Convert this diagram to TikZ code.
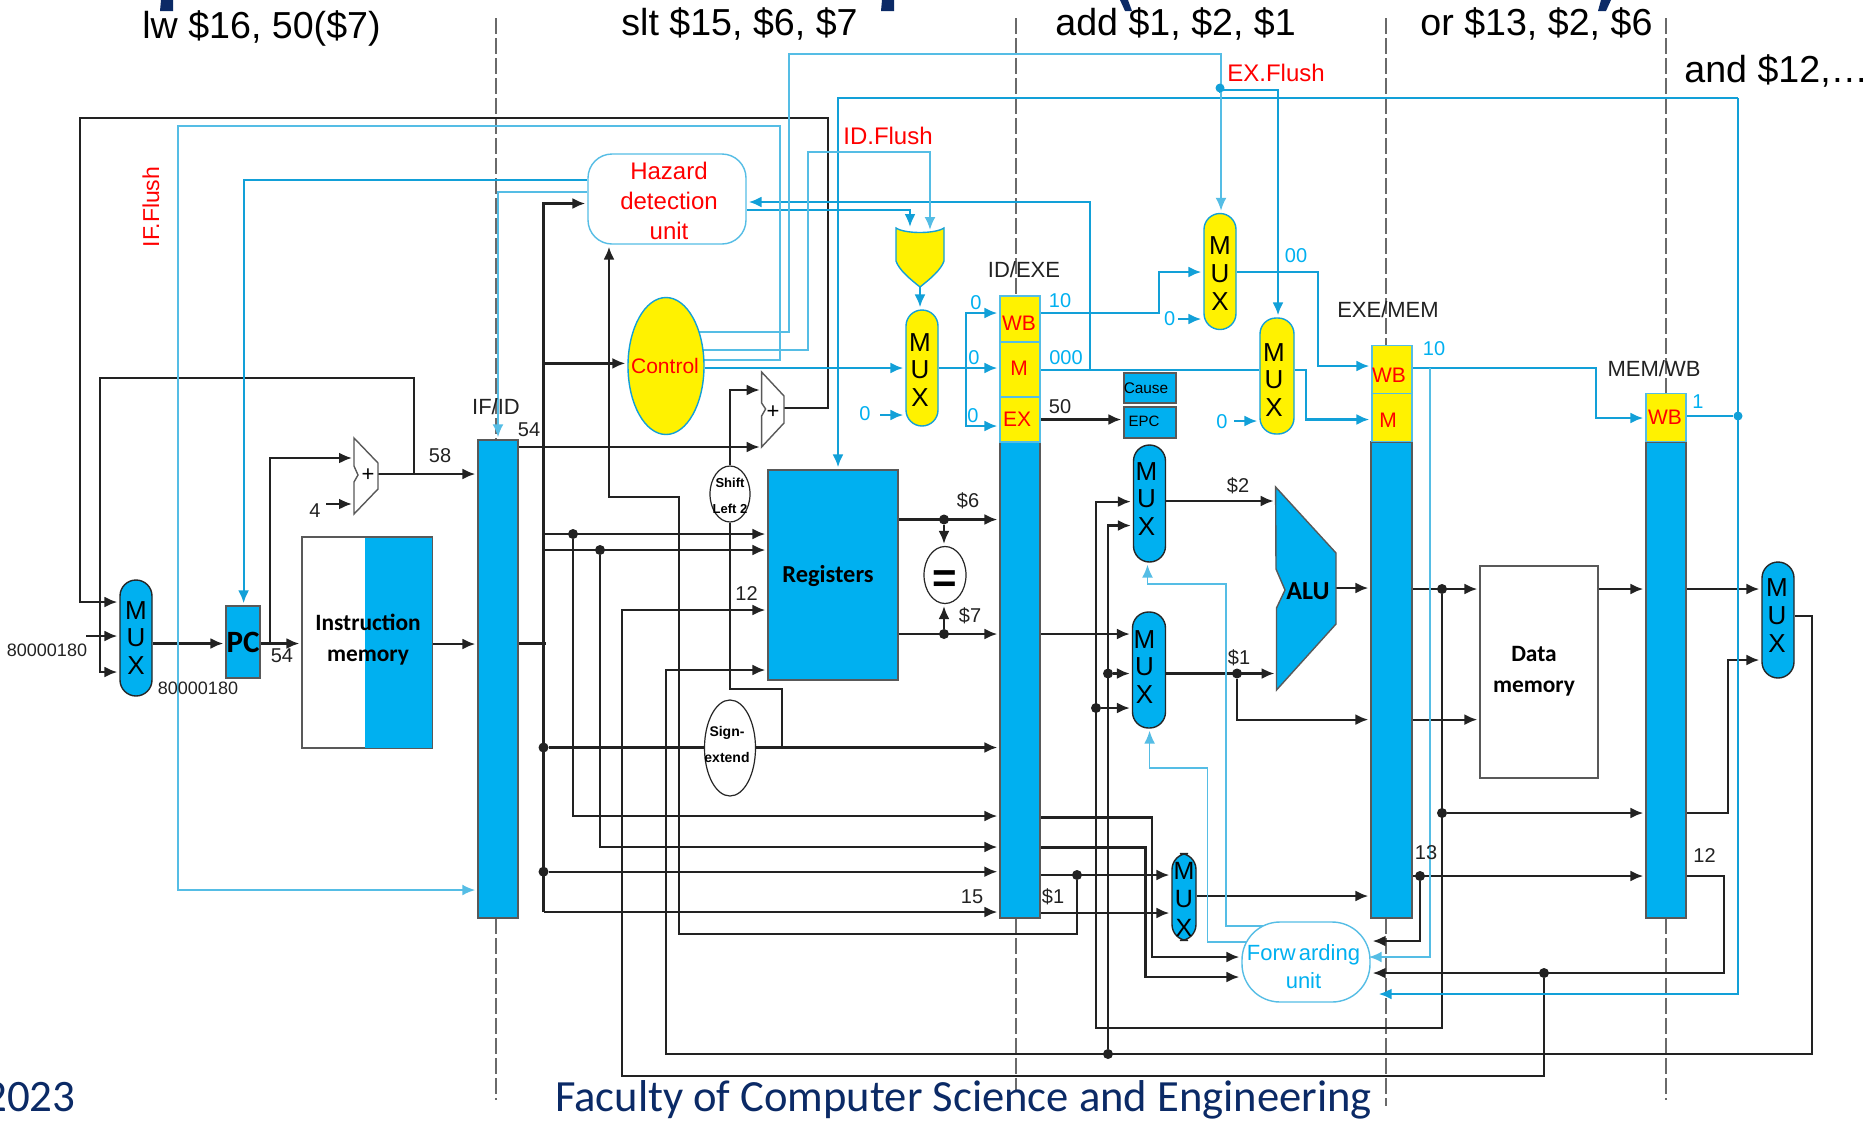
\documentclass[tikz,border=0pt]{standalone}
\usepackage{fontspec}
\setmainfont{Liberation Sans}
\newfontfamily\cf{Carlito}
\usetikzlibrary{arrows.meta,shapes.geometric,backgrounds}
\definecolor{regblue}{HTML}{00B0F0}
\definecolor{cd}{HTML}{12A0D8}
\definecolor{cl}{HTML}{55BDE5}
\definecolor{wirek}{HTML}{222222}
\definecolor{frame}{HTML}{595959}
\definecolor{navy}{HTML}{0B2A66}
\newcommand{\pxfs}[2]{\fontsize{#1}{#2}\selectfont}
\tikzset{
  sz/.style n args={2}{minimum width=#1*.5pt,minimum height=#2*.5pt},
  arr/.style={-{Latex[length=6.5pt,width=5.5pt]},shorten >=1pt},
  bw/.style={draw=wirek,line width=1.1pt},
  dw/.style={draw=cd,line width=1.1pt},
  lw/.style={draw=cl,line width=1.05pt},
  tw/.style={draw=cl,line width=.8pt},
  reg/.style={rectangle,draw=frame,fill=regblue,line width=.7pt,inner sep=0pt},
  ybox/.style={rectangle,draw=cl,fill=yellow,line width=.7pt,inner sep=0pt},
  ytext/.style={inner sep=0pt,text=red,font=\pxfs{10.5}{12}},
  mux/.style={rectangle,rounded corners=8pt,line width=.7pt,inner sep=0pt},
  muxt/.style={inner sep=0pt,align=center,font=\pxfs{13}{13.9}},
  bmux/.style={mux,draw=black!85,fill=regblue},
  ymux/.style={mux,draw=cd,fill=yellow},
  dotk/.style={circle,fill=wirek,inner sep=0pt,minimum size=5pt},
  dotb/.style={circle,fill=cd,inner sep=0pt,minimum size=4.5pt},
  lab/.style={inner sep=0pt,text=wirek,font=\pxfs{10}{12}},
  clab/.style={inner sep=0pt,text=regblue,font=\pxfs{10}{12}},
  rlab/.style={inner sep=0pt,text=red,font=\pxfs{12}{14}},
  title/.style={inner sep=0pt,anchor=west,text=black,font=\pxfs{18.8}{20}},
  cbold/.style={inner sep=0pt,font=\cf\bfseries\pxfs{11.7}{15.5},align=center},
  oval/.style={ellipse,draw=black!85,fill=white,line width=.6pt,inner sep=0pt},
  adder/.style={draw=frame,fill=white,line width=.7pt,line join=miter}
}
\begin{document}
\begin{tikzpicture}[x=.5pt,y=-.5pt]
\path[use as bounding box] (0,0) rectangle (1875,1120);

% ---- stage titles and slide remnants
\node[title] (tlw) at (142,28) {lw \$16, 50(\$7)};
\node[title] (tslt) at (621,24) {slt \$15, \$6, \$7};
\node[title] (tadd) at (1055,24) {add \$1, \$2, \$1};
\node[title] (tor) at (1420,24) {or \$13, \$2, \$6};
\node[title] (tand) at (1684,71) {and \$12,…};
\fill[navy] (161,0) -- (173,0) -- (173,11) -- (160,11) -- cycle;
\fill[navy] (882,0) -- (894,0) -- (894,11) -- (881,11) -- cycle;
\fill[navy] (1120,0) -- (1128,0) -- (1132,11) -- (1125,11) -- cycle;
\fill[navy] (1601,0) -- (1611,0) -- (1606,11) -- (1598,11) -- cycle;
\node[inner sep=0pt,anchor=base,text=navy,font=\cf\pxfs{22.3}{24}] (foot) at (963.5,1111) {Faculty of Computer Science and Engineering};
\node[inner sep=0pt,anchor=base east,text=navy,font=\cf\pxfs{22.5}{24}] (year) at (76,1111) {2023};

% ---- pipeline registers
\node[reg,sz={40}{478}] (ifid) at (498,679) {};
\node[reg,sz={40}{476}] (idex) at (1020,680) {};
\node[reg,sz={41}{476}] (exmem) at (1391.5,680) {};
\node[reg,sz={40}{476}] (memwb) at (1666,680) {};
\node[ybox,sz={40}{46}] (idwb) at (1020,319) {};
\node[ybox,sz={40}{55}] (idm) at (1020,369.5) {};
\node[ybox,sz={40}{45}] (idx) at (1020,419.5) {};
\node[ybox,sz={40}{48}] (exwb) at (1392,369.5) {};
\node[ybox,sz={40}{48}] (exm) at (1392,417.5) {};
\node[ybox,sz={40}{48}] (mwb) at (1666,417.5) {};
\node[ytext] (idwbt) at (1019,323) {WB};
\node[ytext] (idmt) at (1019,368) {M};
\node[ytext] (idxt) at (1017,419) {EX};
\node[ytext] (exwbt) at (1389,375) {WB};
\node[ytext] (exmt) at (1388,420) {M};
\node[ytext] (mwbt) at (1665,417) {WB};

% ---- functional blocks
\node[bmux,sz={32}{116}] (m1) at (136,638) {};
\node[muxt] (m1t) at (136,638) {M\\U\\X};
\node[reg,sz={34}{72},font=\cf\bfseries\pxfs{15.5}{16}] (pc) at (243,642) {PC};
\node[rectangle,draw=frame,fill=white,line width=.7pt,sz={130}{210.5},inner sep=0pt] (imem) at (367,642.8) {};
\fill[regblue] (365,538) rectangle (431.6,747.6);
\draw[frame,line width=.7pt] (imem.north west) rectangle (imem.south east);
\node[cbold] (imemt) at (368,640) {Instruction\\memory};
\node[rectangle,rounded corners=12pt,draw=cl,fill=white,line width=.7pt,sz={158}{90},inner sep=0pt] (haz) at (667,199) {};
\node[inner sep=0pt,align=center,text=red,font=\pxfs{12}{15}] (hazt) at (669,201) {Hazard\\detection\\unit};
\node[ellipse,draw=cd,fill=yellow,line width=.7pt,sz={76}{137},inner sep=0pt] (ctrl) at (666,366) {};
\node[inner sep=0pt,text=red,font=\pxfs{10.5}{12}] (ctrlt) at (665,365.5) {Control};
\node[oval,sz={40}{56}] (sl) at (730,494) {};
\node[inner sep=0pt,align=center,font=\bfseries\pxfs{6.5}{13}] (slt) at (730,496) {Shift\\Left 2};
\node[oval,sz={51}{96}] (se) at (730,748) {};
\node[inner sep=0pt,align=center,font=\bfseries\pxfs{7}{13}] (set) at (727,744) {Sign-\\extend};
\node[rectangle,draw=frame,fill=regblue,line width=.7pt,sz={130}{210},inner sep=0pt] (regs) at (833,575) {};
\node[inner sep=0pt,font=\cf\bfseries\pxfs{12.2}{13}] (regst) at (828,576) {Registers};
\node[oval,sz={42}{57}] (eq) at (945,575) {};
\node[inner sep=0pt,font=\bfseries\pxfs{21}{22}] (eqt) at (945,582) {=};
\node[ymux,sz={32}{116}] (m2) at (922,368) {};
\node[muxt] (m2t) at (920,370) {M\\U\\X};
\node[ymux,sz={32}{116}] (m3) at (1220,271.5) {};
\node[muxt] (m3t) at (1220,273.5) {M\\U\\X};
\node[ymux,sz={34}{116}] (m4) at (1277,376) {};
\node[muxt] (m4t) at (1274,380) {M\\U\\X};
\node[reg,sz={52}{30}] (cause) at (1150,388) {};
\node[inner sep=0pt,font=\pxfs{7.7}{9}] (causet) at (1146,388) {Cause};
\node[reg,sz={52}{31}] (epc) at (1150,422.5) {};
\node[inner sep=0pt,font=\pxfs{7.5}{9}] (epct) at (1144,421) {EPC};
\node[bmux,sz={32}{117}] (m6) at (1149.5,503.5) {};
\node[muxt] (m6t) at (1146.5,499) {M\\U\\X};
\node[bmux,sz={33}{116}] (m7) at (1149,670) {};
\node[muxt] (m7t) at (1144.5,667) {M\\U\\X};
\node[bmux,sz={24}{87}] (m8) at (1184,897) {};
\node[muxt,font=\pxfs{12.5}{14.2}] (m8t) at (1184,899) {M\\U\\X};
\node[bmux,sz={32}{116}] (m5) at (1778,620) {};
\node[muxt] (m5t) at (1777,615.5) {M\\U\\X};
\node[rectangle,draw=frame,fill=white,line width=.7pt,sz={118}{212},inner sep=0pt] (dmem) at (1539,672) {};
\node[cbold] (dmemt) at (1534,671) {Data\\memory};
\node[rectangle,rounded corners=19pt,draw=cl,fill=white,line width=.7pt,sz={128}{80},inner sep=0pt] (fwd) at (1306,962) {};
\node[inner sep=0pt,align=center,text=regblue,font=\pxfs{11}{13.7}] (fwdt) at (1303.5,966.5) {Forw\kern1.5pt arding\\unit};

% ---- drawn shapes
\draw[adder] (354,438) -- (378,463) -- (378,489) -- (354,514) -- (354,482) -- (358,475) -- (354,466) -- cycle;
\node[inner sep=0pt,font=\pxfs{11}{12}] (a1t) at (368,475) {+};
\draw[adder] (761.6,372) -- (784,396) -- (784,423) -- (761.6,447) -- (761.6,416) -- (765.6,409) -- (761.6,403) -- cycle;
\node[inner sep=0pt,font=\pxfs{11}{12}] (a2t) at (773,412) {+};
\draw[draw=frame,fill=regblue,line width=.7pt,line join=miter] (1275.6,487) -- (1336,553) -- (1336,624) -- (1276.5,690) -- (1276.5,608) -- (1285,590) -- (1276,569) -- cycle;
\node[inner sep=0pt,font=\cf\bfseries\pxfs{13}{14}] (alu) at (1308,591) {ALU};
\draw[draw=cd,fill=yellow,line width=.7pt] (896,228) .. controls (905,234) and (935,234) .. (944,228) -- (944,261) .. controls (941,270) and (930,279) .. (920,287) .. controls (910,279) and (899,270) .. (896,261) -- cycle;
\coordinate (a1out) at (378,474);
\coordinate (a1ia) at (354,458);
\coordinate (a1ib) at (354,504);
\coordinate (a2out) at (784,408);
\coordinate (a2ia) at (761.6,390);
\coordinate (a2ib) at (761.6,447);
\coordinate (aluia) at (1275.6,501);
\coordinate (aluib) at (1276.5,673.5);
\coordinate (aluo) at (1336,588);
\coordinate (orb) at (920,287);
\coordinate (ora) at (910,229);
\coordinate (orc) at (930,232);
\coordinate (pcin) at (86,636);
\coordinate (four) at (326,504);
\coordinate (tr) at (543.5,912);

% ---- junction dots
\node[dotk] (d1) at (573,534) {};
\node[dotk] (d2) at (600,550) {};
\node[dotk] (d3) at (543.5,747.5) {};
\node[dotk] (d4) at (543.5,871.7) {};
\node[dotk] (d5) at (1077,875) {};
\node[dotk] (d6) at (1544,973) {};
\node[dotk] (d7) at (1108,1054) {};
\node[dotk] (d8) at (1442,813) {};
\node[dotk] (d9) at (1442,589) {};
\node[dotk] (d10) at (1096,708) {};
\node[dotk] (d11) at (1237,673.5) {};
\node[dotk] (d12) at (1420,876) {};
\node[dotk] (d13) at (1108,673.5) {};
\node[dotk] (eqa) at (944,519.5) {};
\node[dotk] (eqb) at (944,634) {};
\node[dotb] (d14) at (1220,88) {};
\node[dotb] (d15) at (1738,416) {};

% ---- labels
\node[lab,font=\pxfs{11}{12}] (lif) at (496,407) {IF/ID};
\node[lab,font=\pxfs{11}{12}] (lid) at (1024,270) {ID/EXE};
\node[lab,font=\pxfs{11}{12}] (lex) at (1388,310) {EXE/MEM};
\node[lab,font=\pxfs{11}{12}] (lmem) at (1654,368.4) {MEM/WB};
\node[lab] (l54a) at (529,430) {54};
\node[lab] (l58) at (440,456) {58};
\node[lab] (l54b) at (282,656) {54};
\node[lab] (l4) at (315,511) {4};
\node[lab,font=\pxfs{9}{10}] (la) at (47,650) {80000180};
\node[lab,font=\pxfs{9}{10}] (lb) at (198,688) {80000180};
\node[lab] (l12a) at (746.5,594) {12};
\node[lab] (l50) at (1060,407) {50};
\node[lab] (ls6) at (968,501) {\$6};
\node[lab] (ls7) at (970,616) {\$7};
\node[lab] (ls2) at (1238,486) {\$2};
\node[lab] (ls1) at (1239,658) {\$1};
\node[lab] (ls1b) at (1053,897) {\$1};
\node[lab] (l15) at (972,897) {15};
\node[lab] (l13) at (1426,853) {13};
\node[lab] (l12b) at (1704.6,856) {12};
\node[clab] (c0a) at (865,414) {0};
\node[clab] (c0b) at (976,303) {0};
\node[clab] (c0c) at (974,358) {0};
\node[clab] (c0d) at (973,416) {0};
\node[clab] (c0e) at (1169.6,319) {0};
\node[clab] (c0f) at (1222,422) {0};
\node[clab] (c10a) at (1060,301) {10};
\node[clab] (c000) at (1066,358) {000};
\node[clab] (c00) at (1296,256) {00};
\node[clab] (c10b) at (1434,349) {10};
\node[clab] (c1) at (1698,402) {1};
\node[rlab] (fid) at (888,136) {ID.Flush};
\node[rlab] (fex) at (1276,73) {EX.Flush};
\node[rlab,font=\pxfs{11.5}{14},rotate=90] (fif) at (151,207) {IF.Flush};

\begin{scope}[on background layer]
\fill[white] (0,0) rectangle (1875,1120);
% stage separators
\foreach \xx/\yy in {496/1100,1016/1090,1386/1106,1666/1100}
  \draw[frame!90,line width=.8pt,dash pattern=on 8pt off 2pt] (\xx,18) -- (\xx,\yy);

% black wires
\draw[bw,arr] (a1out) -- (ifid.west |- a1out);
\draw[bw,arr] (414,474) -- (414,378) -- (100,378) -- (100,672) -- (m1.west |- 0,672);
\draw[bw,arr] (a2out) -- (828,408) -- (828,118) -- (80,118) -- (80,602) -- (m1.west |- 0,602);
\draw[bw,arr] (pcin) -- (m1.west |- pcin);
\draw[bw,arr] (m1.east |- 0,643.5) -- (pc.west |- 0,643.5);
\draw[bw,arr] (pc.east |- 0,643.5) -- (imem.west |- 0,643.5);
\draw[bw,arr] (270,643.5) -- (270,458) -- (a1ia);
\draw[bw,arr] (four) -- (a1ib);
\draw[bw,arr] (imem.east |- 0,644) -- (ifid.west |- 0,644);
\draw[bw] (ifid.east |- 0,643.5) -- (546,643.5);
\draw[bw,arr] (tr) -- (idex.west |- tr);
\draw[bw,arr] (tr) -- (543.5,203.5) -- (haz.west |- 0,203.5);
\draw[bw,arr] (543.5,363.4) -- (ctrl.west |- 0,363.4);
\draw[bw,arr] (d3) -- (idex.west |- d3);
\draw[bw,arr] (d4) -- (idex.west |- d4);
\draw[bw,arr] (ifid.east |- a2ib) -- (a2ib);
\draw[bw,arr] (tr |- 0,534) -- (regs.west |- 0,534);
\draw[bw,arr] (tr |- 0,550) -- (regs.west |- 0,550);
\draw[bw,arr] (d1) -- (573,816) -- (idex.west |- 0,816);
\draw[bw,arr] (d2) -- (600,847) -- (idex.west |- 0,847);
\draw[bw,arr] (d5) -- (1077,934) -- (679,934) -- (679,497) -- (609,497) -- (609,497 |- haz.south);
\draw[bw,arr] (sl.north) -- (730,390) -- (a2ia);
\draw[bw] (sl.south) -- (730,689) -- (782,689) -- (782,747.5);
\draw[bw,arr] (regs.east |- eqa) -- (idex.west |- eqa);
\draw[bw,arr] (regs.east |- eqb) -- (idex.west |- eqb);
\draw[bw,arr] (eqa) -- (eqa |- eq.north);
\draw[bw,arr] (eqb) -- (eqb |- eq.south);
\draw[bw,arr] (d6) -- (1544,1076) -- (622,1076) -- (622,610) -- (regs.west |- 0,610);
\draw[bw,arr] (m5.east |- 0,616) -- (1812,616) -- (1812,1054) -- (666,1054) -- (666,670) -- (regs.west |- 0,670);
\draw[bw,arr] (d7) -- (1108,525.5) -- (m6.west |- 0,525.5);
\draw[bw,arr] (d13) -- (m7.west |- d13);
\draw[bw,arr] (d9) -- (1442,1028) -- (1096,1028) -- (1096,501.6) -- (m6.west |- 0,501.6);
\draw[bw,arr] (d10) -- (m7.west |- d10);
\draw[bw,arr] (exmem.east |- d9) -- (dmem.west |- d9);
\draw[bw,arr] (d8) -- (memwb.west |- d8);
\draw[bw,arr] (m6.east |- aluia) -- (aluia);
\draw[bw,arr] (m7.east |- aluib) -- (aluib);
\draw[bw,arr] (d11) -- (1237,719.6) -- (exmem.west |- 0,719.6);
\draw[bw,arr] (idex.east |- eqb) -- (m7.west |- eqb);
\draw[bw,arr] (aluo) -- (exmem.west |- aluo);
\draw[bw,arr] (exmem.east |- 0,719.6) -- (dmem.west |- 0,719.6);
\draw[bw,arr] (dmem.east |- 0,589) -- (memwb.west |- 0,589);
\draw[bw,arr] (memwb.east |- 0,589) -- (m5.west |- 0,589);
\draw[bw,arr] (memwb.east |- d8) -- (1727.6,813) -- (1727.6,660) -- (m5.west |- 0,660);
\draw[bw,arr] (exmem.east |- d12) -- (memwb.west |- d12);
\draw[bw,arr] (d12) -- (1420,941) -- (fwd.east |- 0,941);
\draw[bw,arr] (memwb.east |- d12) -- (1724,876) -- (1724,973) -- (fwd.east |- 0,973);
\draw[bw,arr] (idex.east |- 0,817.4) -- (1152,817.4) -- (1152,957) -- (fwd.west |- 0,957);
\draw[bw,arr] (idex.east |- 0,847.4) -- (1145.5,847.4) -- (1145.5,977) -- (fwd.west |- 0,977);
\draw[bw,arr] (idex.east |- d5) -- (m8.west |- d5);
\draw[bw,arr] (idex.east |- 0,913) -- (m8.west |- 0,913);
\draw[bw,arr] (m8.east |- 0,896) -- (exmem.west |- 0,896);
\draw[bw,arr] (idx.east) -- (epc.west |- idx.east);

% dark blue wires
\draw[dw,arr] (haz.west |- 0,180) -- (243.6,180) -- (243.6,180 |- pc.north);
\draw[dw,arr] (haz.east |- 0,210) -- (910,210) -- (ora);
\draw[dw,arr] (1090,370) -- (1090,202) -- (haz.east |- 0,202);
\draw[dw,arr] (ctrl.east |- 0,368) -- (m2.west |- 0,368);
\draw[dw,arr] (m2.east |- 0,368) -- (idm.west |- 0,368);
\draw[dw,arr] (966,368) -- (966,313) -- (idwb.west |- 0,313);
\draw[dw,arr] (966,368) -- (966,426) -- (idx.west |- 0,426);
\draw[dw,arr] (orb) -- (orb |- m2.north);
\draw[dw,arr] (880,415) -- (m2.west |- 0,415);
\draw[dw,arr] (idwb.east |- 0,313) -- (1159,313) -- (1159,272) -- (m3.west |- 0,272);
\draw[dw] (idm.east |- 0,370) -- (m4.west |- 0,370);
\draw[dw,arr] (1178,319) -- (m3.west |- 0,319);
\draw[dw,arr] (1234,421) -- (m4.west |- 0,421);
\draw[dw,arr] (m3.east |- 0,272) -- (1318,272) -- (1318,366) -- (exwb.west |- 0,366);
\draw[dw,arr] (m4.east |- 0,370) -- (1306,370) -- (1306,419.5) -- (exm.west |- 0,419.5);
\draw[dw,arr] (exwb.east |- 0,368) -- (1596,368) -- (1596,418) -- (mwb.west |- 0,418);
\draw[dw] (mwb.east |- d15) -- (d15);
\draw[dw,arr,shorten >=4pt] (1738,98) -- (1738,994) -- (fwd.east |- 0,994);
\draw[dw,arr] (1738,98) -- (838,98) -- (838,98 |- regs.north);
\draw[dw,arr] (d14) -- (1220,90) -- (1278,90) -- (1278,90 |- m4.north);

% light blue wires
\draw[lw,arr] (ctrl.center |- 0,332) -- (789,332) -- (789,54) -- (1221,54) -- (1221,54 |- m3.north);
\draw[lw,arr] (ctrl.center |- 0,350) -- (808,350) -- (808,152) -- (930,152) -- (orc);
\draw[lw,arr] (ctrl.center |- 0,360) -- (780,360) -- (780,126) -- (178,126) -- (178,890) -- (ifid.west |- 0,890);
\draw[lw,arr] (haz.west |- 0,192) -- (498,192) -- (498,192 |- ifid.north);
\draw[lw,arr,shorten >=-1pt] (1430,368) -- (1430,957) -- (fwd.east |- 0,957);
\draw[tw,arr] (fwd.center |- 0,926) -- (1226,926) -- (1226,584) -- (1147.5,584) -- (1147.5,584 |- m6.south);
\draw[tw,arr] (fwd.center |- 0,942) -- (1207.5,942) -- (1207.5,768) -- (1149.6,768) -- (1149.6,768 |- m7.south);
\end{scope}
\end{tikzpicture}
\end{document}
